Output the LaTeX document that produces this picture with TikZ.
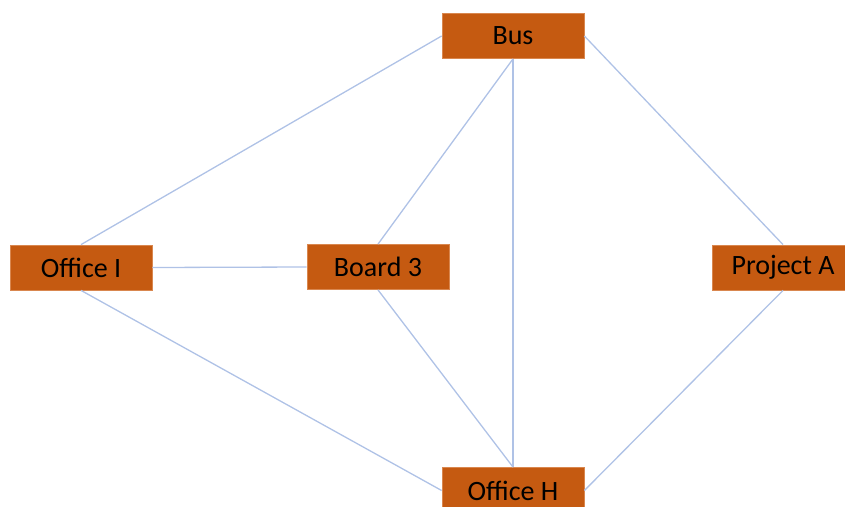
\documentclass[tikz,border=0pt]{standalone}
\usepackage{fontspec}
\setmainfont{Carlito}
\definecolor{boxfill}{HTML}{C55A11}
\definecolor{boxline}{HTML}{D9874F}
\definecolor{edgeblue}{HTML}{AFC2E6}
\begin{document}
\begin{tikzpicture}[x=1pt,y=-1pt,
  box/.style={rectangle, fill=boxfill, draw=boxline, line width=0.8pt,
    minimum width=142pt, minimum height=45pt, inner sep=0pt,
    font=\fontsize{28}{32}\selectfont, text=black},
  edge/.style={draw=edgeblue, line width=1.3pt}]
\useasboundingbox (0,0) rectangle (845,506);
\clip (0,0) rectangle (845,506);
\node[box] (bus) at (513,36) {Bus};
\node[box] (offi) at (81,267.5) {Office I};
\node[box] (board) at (378,267) {Board 3};
\node[box] (proj) at (783,267.5) {Project A};
\node[box, minimum height=46pt] (offh) at (513,490.5) {Office H};
\draw[edge] (bus.west) -- (offi.north);
\draw[edge] (bus.south) -- (board.north);
\draw[edge] (bus.south) -- (offh.north);
\draw[edge] (bus.east) -- (proj.north);
\draw[edge] (offi.east) -- (board.west);
\draw[edge] (offi.south) -- (offh.west);
\draw[edge] (board.south) -- (offh.north);
\draw[edge] (proj.south) -- (offh.east);
\end{tikzpicture}
\end{document}
